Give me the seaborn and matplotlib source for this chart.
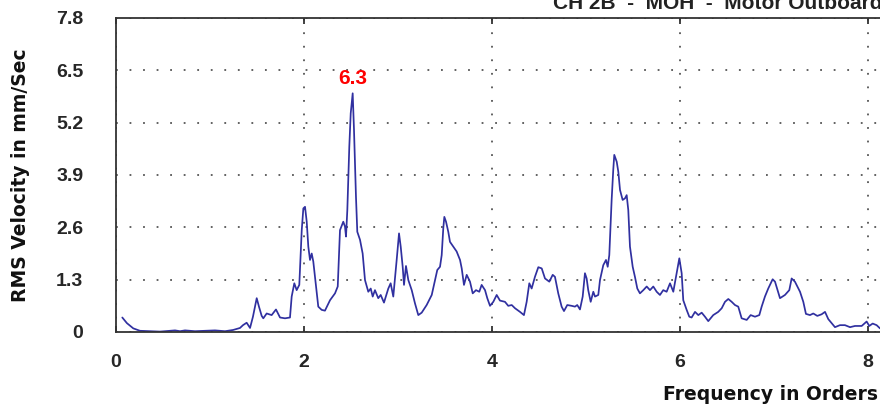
import seaborn as sns
import matplotlib.pyplot as plt
import pandas as pd

# Spectrum trace (frequency in orders, RMS velocity mm/s)
orders = [
    0.067, 0.116, 0.184, 0.255, 0.362, 0.468, 0.574, 0.628, 0.681, 0.734,
    0.840, 0.947, 1.053, 1.160, 1.245, 1.319, 1.351, 1.390, 1.426, 1.457,
    1.497, 1.521, 1.550, 1.567, 1.603, 1.656, 1.702, 1.745, 1.798, 1.851,
    1.869, 1.897, 1.922, 1.950, 1.976, 1.993, 2.011, 2.029, 2.046, 2.064,
    2.082, 2.099, 2.128, 2.152, 2.188, 2.223, 2.277, 2.330, 2.359, 2.383,
    2.418, 2.436, 2.447, 2.461, 2.482, 2.497, 2.518, 2.532, 2.553, 2.567,
    2.596, 2.624, 2.649, 2.684, 2.710, 2.731, 2.755, 2.790, 2.816, 2.851,
    2.897, 2.922, 2.950, 2.968, 2.986, 3.011, 3.029, 3.050, 3.064, 3.085,
    3.110, 3.146, 3.181, 3.216, 3.252, 3.305, 3.359, 3.394, 3.418, 3.447,
    3.465, 3.482, 3.493, 3.511, 3.535, 3.553, 3.588, 3.624, 3.660, 3.678,
    3.702, 3.731, 3.766, 3.795, 3.830, 3.865, 3.890, 3.926, 3.950, 3.979,
    4.014, 4.050, 4.085, 4.138, 4.173, 4.210, 4.245, 4.298, 4.340, 4.369,
    4.397, 4.422, 4.457, 4.493, 4.529, 4.564, 4.610, 4.646, 4.670, 4.705,
    4.741, 4.766, 4.801, 4.848, 4.883, 4.907, 4.936, 4.965, 4.989, 5.007,
    5.024, 5.050, 5.078, 5.096, 5.131, 5.149, 5.184, 5.213, 5.231, 5.248,
    5.273, 5.290, 5.301, 5.327, 5.344, 5.362, 5.390, 5.415, 5.433, 5.450,
    5.468, 5.497, 5.521, 5.546, 5.574, 5.610, 5.646, 5.681, 5.716, 5.752,
    5.787, 5.822, 5.858, 5.894, 5.929, 5.965, 5.993, 6.018, 6.035, 6.071,
    6.099, 6.124, 6.160, 6.195, 6.231, 6.266, 6.301, 6.354, 6.407, 6.444,
    6.479, 6.514, 6.550, 6.585, 6.620, 6.656, 6.710, 6.752, 6.798, 6.844,
    6.869, 6.904, 6.939, 6.986, 7.011, 7.064, 7.117, 7.163, 7.188, 7.223,
    7.277, 7.312, 7.340, 7.383, 7.418, 7.461, 7.507, 7.543, 7.578, 7.649,
    7.702, 7.755, 7.809, 7.862, 7.933, 7.986, 8.014, 8.050, 8.092, 8.128,
]
velocity = [
    0.36, 0.22, 0.09, 0.03, 0.02, 0.01, 0.03, 0.04, 0.02, 0.04,
    0.02, 0.03, 0.04, 0.02, 0.05, 0.10, 0.17, 0.23, 0.10, 0.38,
    0.84, 0.63, 0.40, 0.34, 0.46, 0.42, 0.56, 0.36, 0.34, 0.36,
    0.88, 1.21, 1.04, 1.17, 2.53, 3.07, 3.11, 2.74, 2.12, 1.79,
    1.95, 1.75, 1.13, 0.63, 0.55, 0.53, 0.79, 0.96, 1.13, 2.53,
    2.74, 2.62, 2.37, 3.03, 4.60, 5.43, 5.93, 5.02, 3.36, 2.49,
    2.29, 1.95, 1.29, 1.00, 1.08, 0.88, 1.04, 0.84, 0.92, 0.73,
    1.08, 1.21, 0.88, 1.33, 1.79, 2.45, 2.12, 1.62, 1.17, 1.64,
    1.29, 1.04, 0.71, 0.42, 0.48, 0.67, 0.92, 1.29, 1.54, 1.62,
    1.91, 2.58, 2.86, 2.74, 2.49, 2.24, 2.12, 2.00, 1.79, 1.58,
    1.17, 1.42, 1.25, 0.96, 1.04, 1.00, 1.17, 1.04, 0.84, 0.65,
    0.75, 0.92, 0.78, 0.75, 0.65, 0.67, 0.59, 0.50, 0.42, 0.75,
    1.21, 1.08, 1.37, 1.61, 1.58, 1.33, 1.25, 1.42, 1.37, 0.96,
    0.63, 0.52, 0.67, 0.65, 0.63, 0.67, 0.56, 0.88, 1.46, 1.33,
    1.04, 0.75, 1.00, 0.88, 0.92, 1.29, 1.66, 1.79, 1.62, 1.91,
    3.28, 4.02, 4.40, 4.23, 3.98, 3.53, 3.28, 3.32, 3.40, 3.03,
    2.12, 1.62, 1.37, 1.08, 0.96, 1.04, 1.13, 1.04, 1.13, 1.00,
    0.92, 1.04, 1.00, 1.21, 1.00, 1.46, 1.83, 1.46, 0.79, 0.55,
    0.38, 0.36, 0.50, 0.42, 0.48, 0.38, 0.27, 0.42, 0.50, 0.59,
    0.75, 0.82, 0.75, 0.67, 0.63, 0.34, 0.30, 0.42, 0.38, 0.42,
    0.63, 0.88, 1.08, 1.31, 1.25, 0.84, 0.92, 1.04, 1.33, 1.25,
    1.00, 0.75, 0.45, 0.42, 0.46, 0.40, 0.44, 0.50, 0.32, 0.12,
    0.17, 0.17, 0.12, 0.15, 0.15, 0.26, 0.15, 0.21, 0.17, 0.09,
]
y_ticks = [0, 1.3, 2.6, 3.9, 5.2, 6.5, 7.8]
y_tick_labels = ["0", "1.3", "2.6", "3.9", "5.2", "6.5", "7.8"]
x_ticks = [0, 2, 4, 6, 8]
peak_order = 2.518
peak_value = 5.93
peak_label = "6.3"
title_text = "CH 2B  -  MOH  -  Motor Outboard"

df = pd.DataFrame({"Order": orders, "Velocity": velocity})

sns.set_style("white")
plt.rcParams['font.family'] = ['Liberation Sans', 'DejaVu Sans']

fig = plt.figure(figsize=(8.8, 4.07), dpi=100)
ax = fig.add_axes([116 / 880, 1 - 332 / 407, 764 / 880, 314 / 407])

sns.lineplot(data=df, x="Order", y="Velocity", ax=ax, color="#3030a0",
             linewidth=1.25, sort=False)

ax.set_xlim(0, 8.128)
ax.set_ylim(0, 7.8)
ax.set_xticks(x_ticks)
ax.set_yticks(y_ticks)
ax.set_yticklabels(y_tick_labels)

# dotted grid
ax.grid(True, linestyle=(0, (1, 6.5)), color="#555555", linewidth=1.3)
ax.set_axisbelow(True)

for side in ["left", "bottom", "top"]:
    ax.spines[side].set_color("#333333")
    ax.spines[side].set_linewidth(1.3)
ax.spines["right"].set_visible(False)

ax.tick_params(axis="y", direction="inout", length=9, width=1.3, color="#333333",
               labelsize=14, pad=19)
ax.tick_params(axis="x", direction="in", length=4, width=1.3, color="#333333",
               labelsize=14, pad=16, top=True, bottom=True)
for lbl in ax.get_xticklabels() + ax.get_yticklabels():
    lbl.set_fontweight("bold")

label_font = ['DejaVu Sans']
ax.set_ylabel("RMS Velocity in mm/Sec", fontsize=13.5, fontweight="bold",
              family=label_font, color="#111111")
ax.yaxis.set_label_coords(-0.112, 0.5)
ax.set_xlabel("Frequency in Orders", fontsize=13.5, fontweight="bold",
              family=label_font, ha="right", color="#111111")
ax.xaxis.set_label_coords(0.997, -0.168)

ax.annotate(peak_label, xy=(peak_order, peak_value), xytext=(0, 4),
            textcoords="offset points", ha="center", va="bottom",
            color="red", fontsize=15, fontweight="bold")

# header text, cut off by the top edge as in the source screenshot
fig.text(553 / 880, 1 - 9 / 407, title_text, ha="left", va="baseline",
         fontsize=15, fontweight="bold", color="#222222")

plt.savefig("out.png", dpi=100)
